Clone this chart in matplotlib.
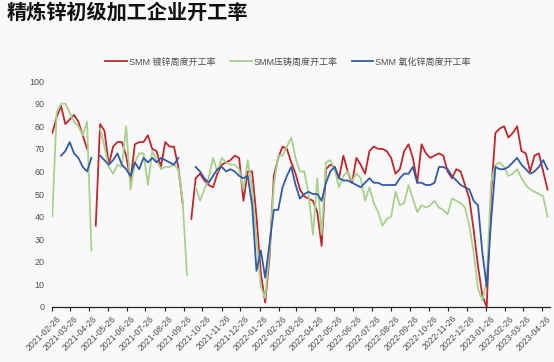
import numpy as np
import pandas as pd
import matplotlib
matplotlib.use("Agg")
import matplotlib.pyplot as plt
import matplotlib.dates as mdates
from matplotlib.transforms import ScaledTranslation

plt.rcParams['font.family'] = ['Liberation Sans', 'Noto Sans CJK SC']

nan = np.nan

# weekly SMM operating rates (%)
dates = pd.date_range("2021-02-26", periods=115, freq="7D")

galvanizing = [
    77, 84, 89, 81, 83, 85, 82, 76, 70, nan,
    36, 81, 78, 63, 71, 73, 73, 67, 56, 72,
    73, 73, 76, 70, 69, 62, 73, 71, 71, 62,
    46, nan, 39, 57, 59, 56, 54, 53, 59, 63,
    64, 65, 67, 66, 47, 60, 60, 40, 15, 2,
    22, 58, 66, 71, 70, 64, 59, 52, 49, 48,
    47, 42, 27, 61, 63, 62, 57, 67, 60, 55,
    66, 63, 59, 69, 71, 70, 70, 69, 66, 59,
    61, 69, 72, 66, 55, 72, 68, 66, 67, 68,
    67, 60, 57, 61, 60, 54, 48, 34, 18, 5,
    0, 50, 77, 79, 80, 75, 77, 80, 69, 68,
    60, 67, 68, 60, 52,
]

die_casting = [
    40, 86, 90, 90, 86, 82, 80, 76, 82, 25,
    nan, 79, 71, 62, 59, 63, 62, 80, 52, 64,
    68, 68, 54, 69, 65, 61, 62, 62, 63, 61,
    47, 14, nan, 53, 47, 52, 57, 66, 60, 66,
    64, 63, 63, 61, 52, 65, 52, 30, 9, 4,
    25, 54, 67, 67, 71, 75, 66, 60, 60, 50,
    32, 57, 32, 64, 65, 61, 53, 58, 60, 56,
    59, 57, 47, 53, 46, 42, 36, 39, 40, 51,
    45, 46, 54, 48, 42, 45, 44, 45, 47, 44,
    43, 41, 48, 47, 46, 44, 36, 24, 8, 3,
    12, 55, 63, 64, 62, 58, 59, 61, 57, 54,
    52, 51, 50, 49, 40,
]

zinc_oxide = [
    nan, nan, 67, 69, 73, 68, 66, 62, 60, 66,
    nan, 67, 65, 63, 65, 68, 63, 61, 58, 64,
    61, 66, 64, 66, 64, 66, 65, 64, 63, 66,
    nan, nan, nan, 62, 60, 57, 55, 58, 61, 62,
    60, 61, 60, 58, 57, 58, 45, 16, 25, 13,
    28, 43, 43, 53, 58, 62, 54, 48, 50, 51,
    50, 50, 47, 55, 60, 62, 57, 56, 56, 55,
    54, 53, 55, 57, 55, 55, 54, 54, 54, 54,
    57, 59, 59, 62, 55, 55, 54, 54, 55, 62,
    62, 61, 58, 56, 54, 53, 52, 47, 45, 24,
    9, 38, 62, 61, 61, 62, 64, 66, 63, 61,
    59, 60, 62, 65, 61,
]

labels = ["SMM 镀锌周度开工率", "SMM压铸周度开工率", "SMM 氧化锌周度开工率"]
colors = ["#c0272d", "#a9d18e", "#3459a6"]

fig = plt.figure(figsize=(5.54, 3.62), dpi=100)
fig.patch.set_facecolor("#f9f9f9")
ax = fig.add_axes([0.0933, 0.152, 0.8995, 0.624])
ax.set_facecolor("#f9f9f9")

for series, lab, col in zip([galvanizing, die_casting, zinc_oxide], labels, colors):
    ax.plot(dates, series, color=col, lw=1.3, label=lab)

ax.set_ylim(0, 100)
ax.set_yticks(range(0, 101, 10))
ax.set_xlim(pd.Timestamp("2021-02-25"), pd.Timestamp("2023-05-09"))
ax.xaxis.set_major_locator(mdates.MonthLocator(bymonthday=26))
ax.xaxis.set_major_formatter(mdates.DateFormatter("%Y-%m-%d"))

for s in ["left", "top", "right"]:
    ax.spines[s].set_visible(False)
ax.spines["bottom"].set_color("#222222")
ax.spines["bottom"].set_linewidth(0.9)

ax.tick_params(axis="y", length=0, labelsize=6.5, labelcolor="#505050", pad=5)
ax.tick_params(axis="x", direction="out", length=3, width=0.8, color="#222222",
               labelsize=6.3, labelcolor="#505050", pad=2)
offset = ScaledTranslation(4 / 100, 0, fig.dpi_scale_trans)
for lbl in ax.get_xticklabels():
    lbl.set_rotation(45)
    lbl.set_ha("right")
    lbl.set_va("top")
    lbl.set_rotation_mode("anchor")
    lbl.set_transform(lbl.get_transform() + offset)

fig.legend(loc="center", bbox_to_anchor=(0.52, 0.829), ncol=3, frameon=False,
           fontsize=6.5, handlelength=2.4, handletextpad=0.2, columnspacing=1.6,
           labelcolor="#505050")

fig.text(0.012, 0.967, "精炼锌初级加工企业开工率", fontsize=14.5, fontweight="bold",
         family=["Noto Sans CJK SC"], va="center", ha="left", color="#111111")

fig.savefig("out.png", dpi=100, facecolor=fig.get_facecolor())
